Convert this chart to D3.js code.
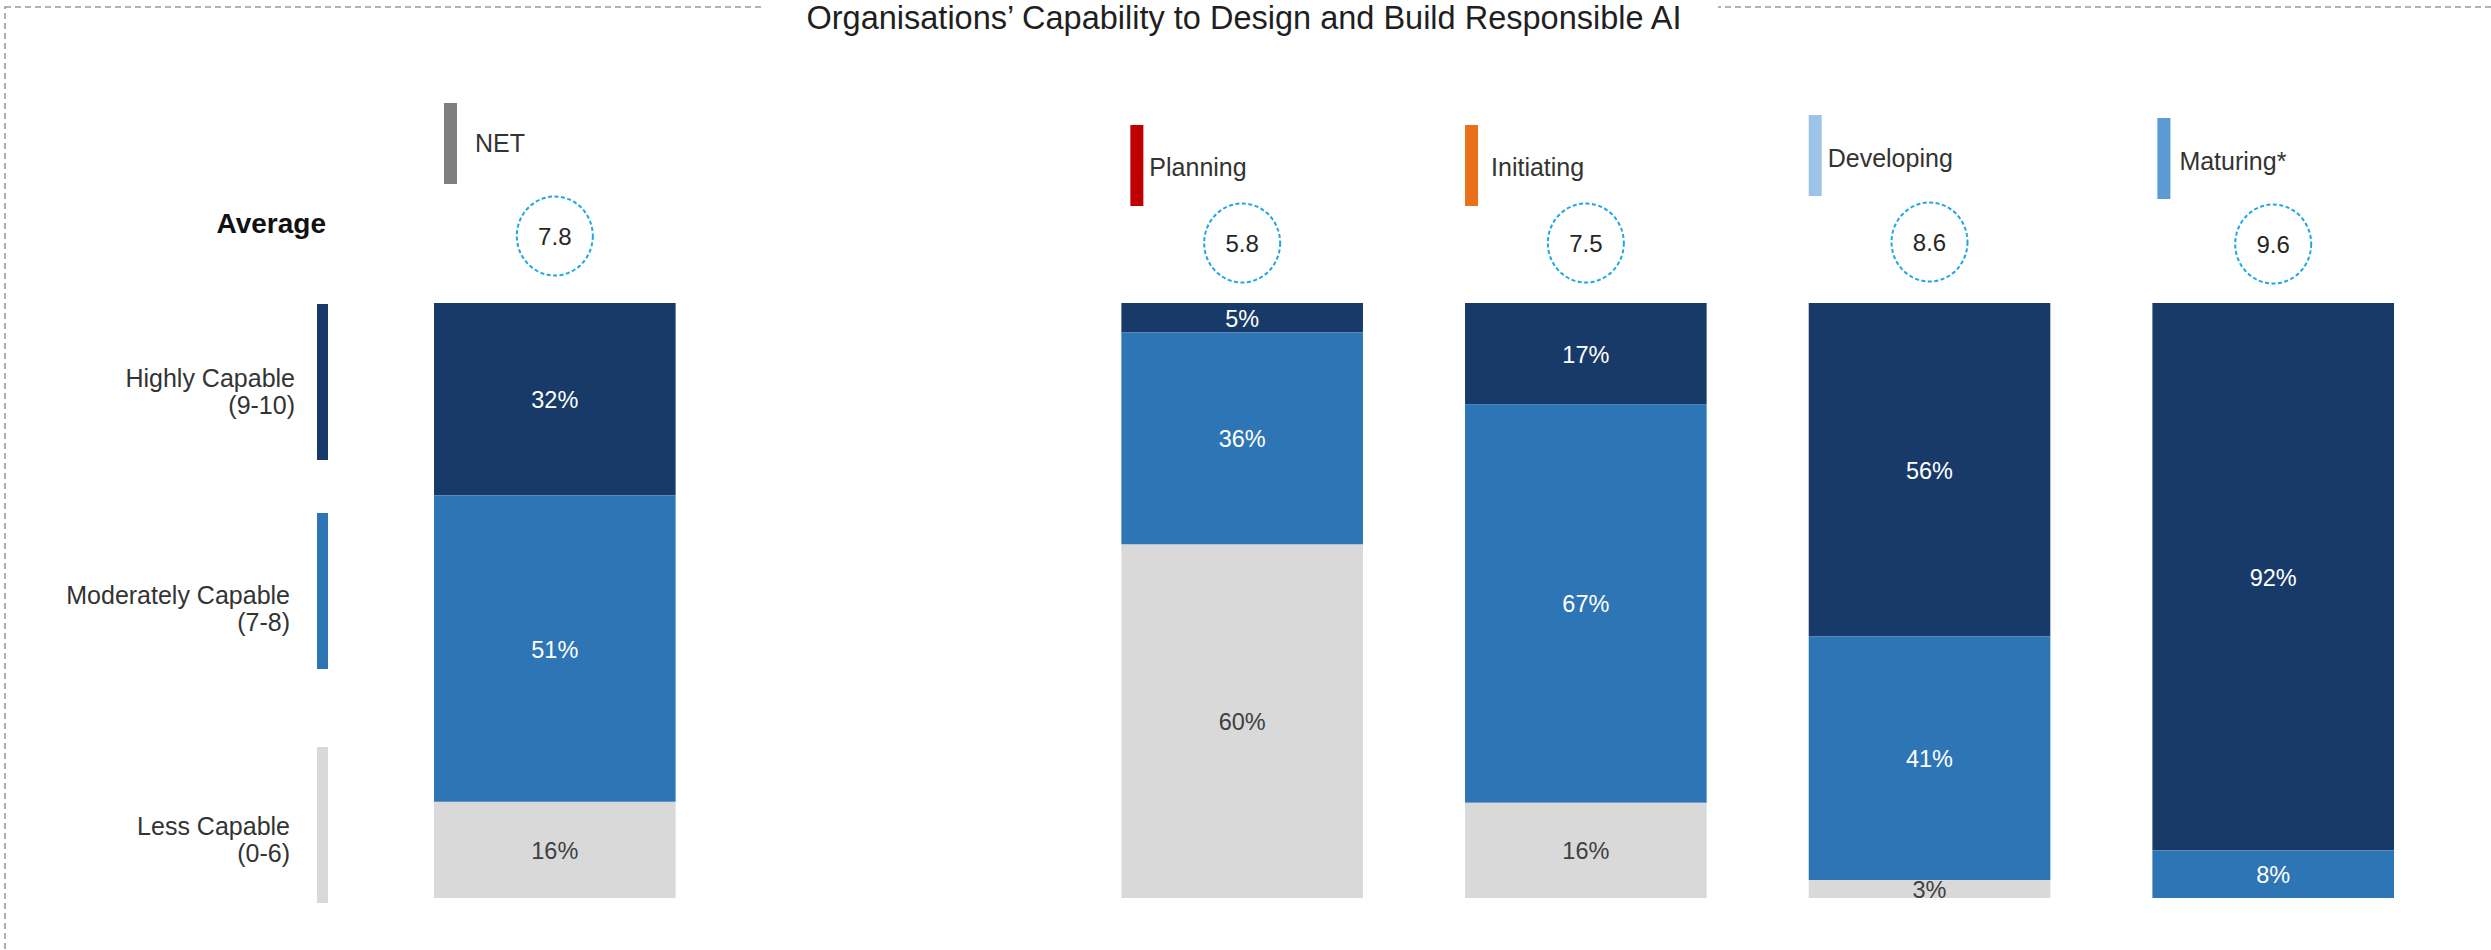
<!DOCTYPE html>
<html>
<head>
<meta charset="utf-8">
<script src="https://cdn.jsdelivr.net/npm/d3@7"></script>
<style>
  html, body { margin: 0; padding: 0; background: #ffffff; }
  svg { display: block; }
  text { font-family: "Liberation Sans", Arial, sans-serif; }
</style>
</head>
<body>
<svg id="chart" width="2491" height="950"></svg>
<script>
// ---------------- DATA ----------------
const title = "Organisations’ Capability to Design and Build Responsible AI";
const columns = ["NET", "Planning", "Initiating", "Developing", "Maturing*"];
const averages = [7.8, 5.8, 7.5, 8.6, 9.6];
const highlyCapable = [32, 5, 17, 56, 92];
const moderatelyCapable = [51, 36, 67, 41, 8];
const lessCapable = [16, 60, 16, 3, 0];
const levelNames = ["Highly Capable", "Moderately Capable", "Less Capable"];
const levelRanges = ["(9-10)", "(7-8)", "(0-6)"];
const averageLabel = "Average";

// ---------------- STYLE / LAYOUT ----------------
const levelColors = ["#183a68", "#2e75b6", "#d9d9d9"];
const levelTextColors = ["#ffffff", "#ffffff", "#404040"];
const columnColors = ["#7f7f7f", "#c00000", "#e8701a", "#9dc3e6", "#5b9bd5"];
const legendTop = [103, 125, 125, 115, 118];
const legendOffset = [10, 9, 0, 0, 5];
const legendTextGap = [31, 19, 26, 19, 22];
const legendTextBaseline = [152, 176, 176, 167, 170];
const circleY = [236, 243, 243, 242, 244];

const svg = d3.select("#chart");
const W = 2491, H = 950;

// outer dashed frame
svg.append("rect")
  .attr("x", 5).attr("y", 7)
  .attr("width", W + 100).attr("height", H + 100)
  .attr("fill", "none")
  .attr("stroke", "#9a9a9a")
  .attr("stroke-width", 1.6)
  .attr("stroke-dasharray", "6,4");

// title with white knock-out
svg.append("rect")
  .attr("x", 762).attr("y", 0).attr("width", 956).attr("height", 24)
  .attr("fill", "#ffffff");
svg.append("text")
  .attr("x", 1244).attr("y", 29)
  .attr("text-anchor", "middle")
  .attr("font-size", 32.5)
  .attr("fill", "#1f1f1f")
  .text(title);

// scales
const xDomain = [columns[0], "__gap__", ...columns.slice(1)];
const x = d3.scaleBand().domain(xDomain).range([434, 2394]).paddingInner(0.297).paddingOuter(0);
const y = d3.scaleLinear().domain([0, 1]).range([303, 898]);

const keys = ["high", "mod", "less"];
const rows = columns.map((c, i) => ({
  col: c, high: highlyCapable[i], mod: moderatelyCapable[i], less: lessCapable[i]
}));
const stack = d3.stack().keys(keys).offset(d3.stackOffsetExpand);
const series = stack(rows);

// bars
const gBars = svg.append("g");
series.forEach((s, si) => {
  gBars.selectAll(null)
    .data(s)
    .join("rect")
    .attr("x", d => x(d.data.col))
    .attr("width", x.bandwidth())
    .attr("y", d => y(d[0]))
    .attr("height", d => Math.max(0, y(d[1]) - y(d[0])))
    .attr("fill", levelColors[si]);
});
// segment labels
series.forEach((s, si) => {
  gBars.selectAll(null)
    .data(s.filter(d => d.data[keys[si]] > 0))
    .join("text")
    .attr("x", d => x(d.data.col) + x.bandwidth() / 2)
    .attr("y", d => (y(d[0]) + y(d[1])) / 2 + 1)
    .attr("text-anchor", "middle")
    .attr("dominant-baseline", "central")
    .attr("font-size", 23.5)
    .attr("fill", levelTextColors[si])
    .text(d => d.data[keys[si]] + "%");
});

// column headers: coloured legend bars, names
columns.forEach((c, i) => {
  const x0 = x(c) + legendOffset[i];
  svg.append("rect")
    .attr("x", x0).attr("y", legendTop[i])
    .attr("width", 13).attr("height", 81)
    .attr("fill", columnColors[i]);
  svg.append("text")
    .attr("x", x0 + legendTextGap[i]).attr("y", legendTextBaseline[i])
    .attr("font-size", 25)
    .attr("fill", "#333333")
    .text(c);
  // average circles
  const cx = x(c) + x.bandwidth() / 2;
  svg.append("ellipse")
    .attr("cx", cx).attr("cy", circleY[i])
    .attr("rx", 38).attr("ry", 39.5)
    .attr("fill", "none")
    .attr("stroke", "#1ea7e4")
    .attr("stroke-width", 2)
    .attr("stroke-dasharray", "4,2.5");
  svg.append("text")
    .attr("x", cx).attr("y", circleY[i])
    .attr("text-anchor", "middle")
    .attr("dominant-baseline", "central")
    .attr("font-size", 24)
    .attr("fill", "#262626")
    .text(averages[i].toFixed(1));
});

// "Average" label
svg.append("text")
  .attr("x", 326).attr("y", 233)
  .attr("text-anchor", "end")
  .attr("font-size", 28)
  .attr("font-weight", "bold")
  .attr("fill", "#111111")
  .text(averageLabel);

// left level legend
const levelBarTop = [304, 513, 747];
const levelBarHeight = 156;
const levelTextX = [295, 290, 290];
const levelTextBaseline = [387, 604, 835];
levelNames.forEach((n, i) => {
  svg.append("rect")
    .attr("x", 317).attr("y", levelBarTop[i])
    .attr("width", 11).attr("height", levelBarHeight)
    .attr("fill", levelColors[i]);
  const t = svg.append("text")
    .attr("x", levelTextX[i]).attr("y", levelTextBaseline[i])
    .attr("text-anchor", "end")
    .attr("font-size", 25)
    .attr("fill", "#333333");
  t.append("tspan").attr("x", levelTextX[i]).text(n);
  t.append("tspan").attr("x", levelTextX[i]).attr("dy", 27).text(levelRanges[i]);
});
</script>
</body>
</html>
